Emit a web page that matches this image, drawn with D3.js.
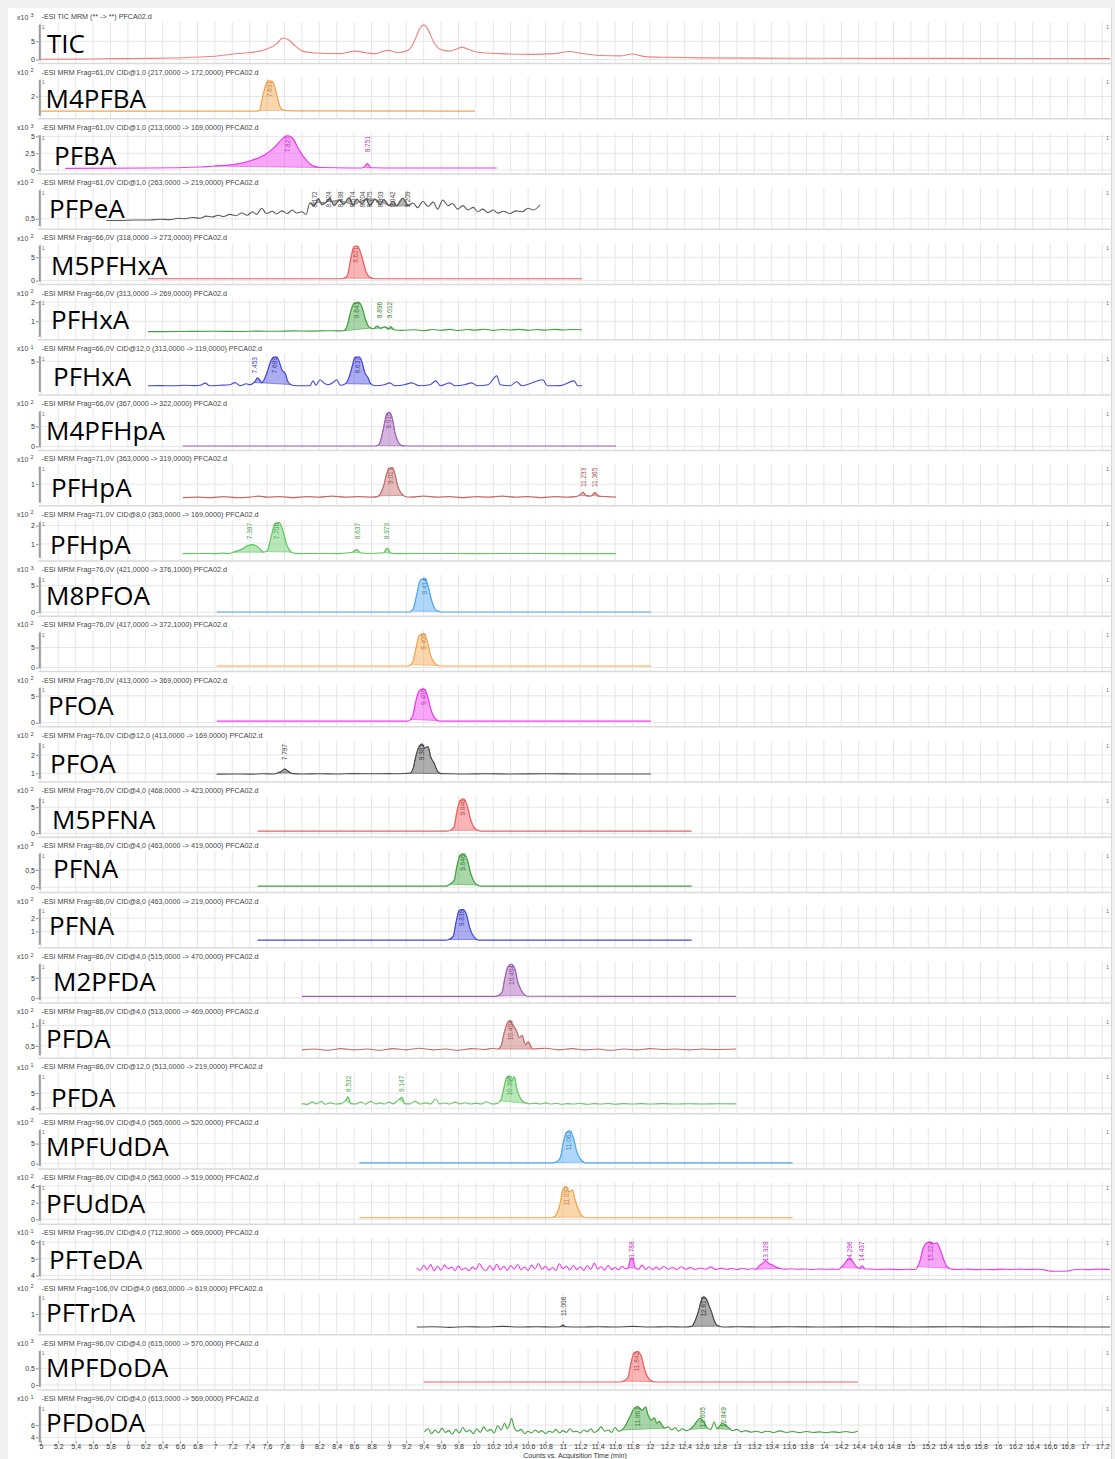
<!DOCTYPE html>
<html>
<head>
<meta charset="utf-8">
<script src="https://cdn.jsdelivr.net/npm/d3@7"></script>
<style>
  body { margin: 0; background: #f0f0f0; }
  svg { display: block; font-family: "Liberation Sans", Arial, sans-serif; }
  .big { font-family: "Open Sans", sans-serif; font-size: 26px; fill: #000; }
  .tick text { font-size: 7px; fill: #333; }
  .tick line { stroke: #888; }
</style>
</head>
<body>
<svg id="chart" width="1115" height="1459"></svg>
<script>
"use strict";

// compound names written on each trace
const labels = ["TIC", "M4PFBA", "PFBA", "PFPeA", "M5PFHxA", "PFHxA", "PFHxA", "M4PFHpA",
  "PFHpA", "PFHpA", "M8PFOA", "", "PFOA", "PFOA", "M5PFNA", "PFNA", "PFNA", "M2PFDA",
  "PFDA", "PFDA", "MPFUdDA", "PFUdDA", "PFTeDA", "PFTrDA", "MPFDoDA", "PFDoDA"];

const headers = [
  "-ESI TIC MRM (** -> **) PFCA02.d",
  "-ESI MRM Frag=61,0V CID@1,0 (217,0000 -> 172,0000) PFCA02.d",
  "-ESI MRM Frag=61,0V CID@1,0 (213,0000 -> 169,0000) PFCA02.d",
  "-ESI MRM Frag=61,0V CID@1,0 (263,0000 -> 219,0000) PFCA02.d",
  "-ESI MRM Frag=66,0V (318,0000 -> 273,0000) PFCA02.d",
  "-ESI MRM Frag=66,0V (313,0000 -> 269,0000) PFCA02.d",
  "-ESI MRM Frag=66,0V CID@12,0 (313,0000 -> 119,0000) PFCA02.d",
  "-ESI MRM Frag=66,0V (367,0000 -> 322,0000) PFCA02.d",
  "-ESI MRM Frag=71,0V (363,0000 -> 319,0000) PFCA02.d",
  "-ESI MRM Frag=71,0V CID@8,0 (363,0000 -> 169,0000) PFCA02.d",
  "-ESI MRM Frag=76,0V (421,0000 -> 376,1000) PFCA02.d",
  "-ESI MRM Frag=76,0V (417,0000 -> 372,1000) PFCA02.d",
  "-ESI MRM Frag=76,0V (413,0000 -> 369,0000) PFCA02.d",
  "-ESI MRM Frag=76,0V CID@12,0 (413,0000 -> 169,0000) PFCA02.d",
  "-ESI MRM Frag=76,0V CID@4,0 (468,0000 -> 423,0000) PFCA02.d",
  "-ESI MRM Frag=86,0V CID@4,0 (463,0000 -> 419,0000) PFCA02.d",
  "-ESI MRM Frag=86,0V CID@8,0 (463,0000 -> 219,0000) PFCA02.d",
  "-ESI MRM Frag=86,0V CID@4,0 (515,0000 -> 470,0000) PFCA02.d",
  "-ESI MRM Frag=86,0V CID@4,0 (513,0000 -> 469,0000) PFCA02.d",
  "-ESI MRM Frag=86,0V CID@12,0 (513,0000 -> 219,0000) PFCA02.d",
  "-ESI MRM Frag=96,0V CID@4,0 (565,0000 -> 520,0000) PFCA02.d",
  "-ESI MRM Frag=86,0V CID@4,0 (563,0000 -> 519,0000) PFCA02.d",
  "-ESI MRM Frag=96,0V CID@4,0 (712,9000 -> 669,0000) PFCA02.d",
  "-ESI MRM Frag=106,0V CID@4,0 (663,0000 -> 619,0000) PFCA02.d",
  "-ESI MRM Frag=96,0V CID@4,0 (615,0000 -> 570,0000) PFCA02.d",
  "-ESI MRM Frag=96,0V CID@4,0 (613,0000 -> 569,0000) PFCA02.d"
];

const exponents = [3, 2, 3, 2, 2, 2, 1, 2, 2, 2, 3, 2, 2, 2, 2, 3, 2, 2, 2, 1, 2, 2, 1, 2, 3, 1];

const yDomains = [[0, 9.6], [0.25, 3.6], [0, 5.2], [0.35, 1.15], [0, 7.5], [0.23, 2.07],
  [2.2, 5.5], [0, 8.8], [0.65, 1.35], [0.29, 2.2], [0, 6.6], [0, 8.75], [0, 6.5],
  [0.74, 2.65], [0, 6.7], [-0.04, 0.97], [0.07, 2.7], [-0.3, 8.45], [0.29, 1.15],
  [3.9, 6.23], [-0.3, 8.4], [-0.1, 4.1], [4.0, 6.1], [0.5, 1.55], [-0.03, 1.02], [3.37, 9.06]];

const yTicks = [[0, 5], [2], [0, 2.5, 5], [0.5], [0, 5], [1, 2], [5], [0, 5], [1], [1, 2],
  [0, 5], [0, 5], [0, 5], [1, 2], [0, 5], [0, 0.5], [1, 2], [0, 5], [0.5, 1], [4, 5],
  [0, 5], [0, 2, 4], [4, 5, 6], [1], [0, 0.5], [4, 6]];

// traces: [acquisition time (min), counts in the panel's x10^n unit]
const trace01 = [[5.0,0.05],[5.4,0.1],[5.7,0.2],[6.0,0.25],[6.25,0.3],[6.5,0.4],[6.83,0.7],[7.0,0.9],[7.21,1.5],[7.35,1.8],[7.46,2.1],[7.6,2.9],[7.71,4.3],[7.78,5.9],[7.84,5.5],[7.92,3.8],[8.01,2.3],[8.1,1.9],[8.21,1.7],[8.44,1.6],[8.55,2.1],[8.61,2.3],[8.75,1.8],[8.84,1.6],[8.93,2.2],[8.99,2.5],[9.1,1.9],[9.2,2.3],[9.26,3.5],[9.31,6.0],[9.36,8.7],[9.4,9.5],[9.45,8.2],[9.51,5.0],[9.59,2.8],[9.7,2.3],[9.78,2.9],[9.84,3.4],[9.93,2.6],[10.05,1.9],[10.28,1.6],[10.62,1.4],[10.91,1.6],[11.0,2.0],[11.08,2.2],[11.2,1.7],[11.43,1.1],[11.66,1.0],[11.79,1.5],[11.94,0.8],[12.2,0.6],[12.57,0.45],[13.72,0.35],[15.5,0.3],[17.29,0.25]];
const trace02 = [[5.0,0.6],[7.45,0.6],[7.51,0.65],[7.55,2.0],[7.58,3.0],[7.61,3.5],[7.66,3.45],[7.71,2.2],[7.75,1.0],[7.78,0.7],[7.9,0.62],[9.99,0.6]];
const trace03 = [[5.28,0.25],[6.25,0.3],[6.83,0.45],[7.0,0.6],[7.17,0.75],[7.4,1.35],[7.57,2.24],[7.69,3.43],[7.77,4.6],[7.83,5.1],[7.89,4.8],[7.95,3.4],[8.03,1.8],[8.11,0.75],[8.21,0.37],[8.55,0.3],[8.69,0.3],[8.72,0.5],[8.75,0.97],[8.79,0.35],[9.13,0.3],[10.24,0.3]];
const trace04 = [[5.75,0.46],[5.91,0.46],[6.08,0.47],[6.25,0.47],[6.37,0.49],[6.48,0.48],[6.58,0.51],[6.66,0.5],[6.74,0.53],[6.83,0.51],[6.9,0.56],[6.97,0.54],[7.04,0.58],[7.1,0.55],[7.17,0.6],[7.24,0.57],[7.31,0.63],[7.37,0.58],[7.43,0.66],[7.48,0.6],[7.54,0.74],[7.59,0.62],[7.66,0.67],[7.71,0.61],[7.77,0.68],[7.83,0.62],[7.89,0.7],[7.94,0.63],[8.0,0.66],[8.05,0.6],[8.09,0.86],[8.14,0.8],[8.19,0.96],[8.23,0.82],[8.28,0.88],[8.32,0.97],[8.37,0.8],[8.43,0.93],[8.48,0.83],[8.54,0.98],[8.59,0.81],[8.63,0.95],[8.69,0.84],[8.74,0.96],[8.78,0.8],[8.84,0.95],[8.9,0.82],[8.94,0.94],[9.0,0.8],[9.05,0.9],[9.09,0.79],[9.16,0.97],[9.22,0.8],[9.28,0.86],[9.33,0.75],[9.39,0.9],[9.45,0.78],[9.51,0.88],[9.56,0.72],[9.62,0.93],[9.68,0.8],[9.73,0.85],[9.79,0.72],[9.85,0.8],[9.91,0.7],[9.97,0.76],[10.02,0.66],[10.08,0.72],[10.14,0.64],[10.2,0.7],[10.25,0.63],[10.32,0.67],[10.39,0.62],[10.46,0.68],[10.53,0.66],[10.6,0.74],[10.66,0.7],[10.74,0.82]];
const trace05 = [[6.23,0.4],[8.45,0.4],[8.5,0.6],[8.53,1.5],[8.56,4.5],[8.6,7.3],[8.64,7.4],[8.69,5.0],[8.74,1.8],[8.79,0.6],[8.85,0.4],[11.22,0.4]];
const trace06 = [[6.23,0.45],[6.6,0.46],[7.0,0.47],[7.3,0.46],[7.5,0.48],[7.7,0.47],[7.9,0.49],[8.1,0.48],[8.3,0.5],[8.4,0.49],[8.48,0.5],[8.52,0.75],[8.56,1.5],[8.6,1.95],[8.65,2.0],[8.69,1.75],[8.73,1.1],[8.77,0.7],[8.82,0.6],[8.87,0.75],[8.9,0.62],[8.95,0.7],[9.0,0.58],[9.02,0.7],[9.06,0.55],[9.15,0.52],[9.3,0.55],[9.4,0.5],[9.5,0.56],[9.6,0.52],[9.7,0.57],[9.8,0.51],[9.9,0.56],[10.0,0.53],[10.1,0.58],[10.2,0.52],[10.3,0.56],[10.4,0.54],[10.5,0.57],[10.6,0.52],[10.7,0.56],[10.8,0.53],[10.9,0.57],[11.0,0.54],[11.1,0.56],[11.22,0.55]];
const trace07 = [[6.23,2.7],[6.37,2.72],[6.54,2.7],[6.66,2.75],[6.77,2.72],[6.83,2.75],[6.89,2.95],[6.94,2.7],[7.06,2.75],[7.17,2.8],[7.23,3.0],[7.29,2.72],[7.36,2.9],[7.4,2.8],[7.46,3.1],[7.49,3.45],[7.54,2.98],[7.59,3.74],[7.64,4.96],[7.67,5.4],[7.71,5.42],[7.74,4.96],[7.77,4.21],[7.81,3.83],[7.84,3.08],[7.89,2.75],[7.98,2.7],[8.09,2.7],[8.13,3.17],[8.16,2.75],[8.21,3.27],[8.25,2.98],[8.3,2.8],[8.37,3.08],[8.4,3.27],[8.44,2.75],[8.5,2.9],[8.54,3.45],[8.58,4.59],[8.61,5.4],[8.66,5.42],[8.69,4.96],[8.72,4.02],[8.76,3.45],[8.79,2.9],[8.84,2.7],[8.95,2.8],[9.01,2.98],[9.07,2.7],[9.18,2.8],[9.26,2.98],[9.35,2.7],[9.47,2.8],[9.54,3.17],[9.59,2.7],[9.7,2.98],[9.76,2.7],[9.87,2.8],[9.95,2.98],[10.02,2.7],[10.14,2.8],[10.24,3.64],[10.28,2.8],[10.39,2.7],[10.47,3.08],[10.53,2.7],[10.62,2.9],[10.77,3.27],[10.82,2.7],[10.97,2.72],[11.13,3.17],[11.17,2.7],[11.22,2.7]];
const trace08 = [[6.63,0.1],[8.85,0.1],[8.89,0.6],[8.93,3.8],[8.97,7.8],[9.0,8.6],[9.04,7.0],[9.07,3.4],[9.11,1.0],[9.15,0.2],[9.2,0.1],[11.61,0.1]];
const trace09 = [[6.63,0.73],[6.8,0.74],[6.95,0.73],[7.1,0.75],[7.25,0.73],[7.4,0.74],[7.5,0.76],[7.6,0.74],[7.75,0.75],[7.9,0.73],[8.05,0.75],[8.2,0.74],[8.35,0.76],[8.5,0.74],[8.65,0.75],[8.8,0.74],[8.87,0.75],[8.9,0.8],[8.94,0.97],[8.97,1.18],[9.0,1.31],[9.04,1.33],[9.07,1.2],[9.1,0.97],[9.14,0.82],[9.18,0.76],[9.25,0.74],[9.4,0.76],[9.55,0.74],[9.7,0.75],[9.85,0.73],[10.0,0.75],[10.15,0.74],[10.3,0.76],[10.45,0.74],[10.6,0.75],[10.75,0.73],[10.9,0.75],[11.05,0.74],[11.15,0.75],[11.2,0.79],[11.23,0.84],[11.27,0.77],[11.32,0.76],[11.37,0.83],[11.41,0.76],[11.5,0.75],[11.61,0.74]];
const trace10 = [[6.63,0.47],[6.8,0.48],[7.0,0.47],[7.1,0.5],[7.15,0.47],[7.21,0.55],[7.3,0.69],[7.38,0.91],[7.44,0.96],[7.5,0.8],[7.56,0.55],[7.6,0.62],[7.65,1.45],[7.69,2.11],[7.74,2.17],[7.78,1.73],[7.83,0.91],[7.88,0.55],[7.96,0.47],[8.2,0.48],[8.4,0.47],[8.58,0.55],[8.63,0.69],[8.67,0.52],[8.75,0.48],[8.94,0.52],[8.98,0.77],[9.02,0.5],[9.1,0.47],[9.5,0.48],[10.0,0.47],[10.5,0.48],[11.0,0.47],[11.61,0.47]];
const trace11 = [[7.02,0.05],[9.24,0.05],[9.28,0.7],[9.32,3.3],[9.36,6.0],[9.41,6.4],[9.45,5.0],[9.49,2.3],[9.54,0.4],[9.6,0.05],[12.01,0.05]];
const trace12 = [[7.02,0.35],[9.22,0.35],[9.27,1.2],[9.31,4.7],[9.35,8.0],[9.4,8.5],[9.44,6.7],[9.48,3.0],[9.53,1.0],[9.58,0.35],[12.01,0.35]];
const trace13 = [[7.02,0.3],[9.22,0.3],[9.27,1.1],[9.31,4.0],[9.35,6.0],[9.4,6.3],[9.44,5.2],[9.48,2.6],[9.53,0.8],[9.58,0.3],[12.01,0.3]];
const trace14 = [[7.02,0.95],[7.2,0.96],[7.4,0.95],[7.55,0.97],[7.68,0.96],[7.73,1.03],[7.77,1.12],[7.8,1.23],[7.84,1.12],[7.89,0.98],[8.0,0.96],[8.2,0.97],[8.4,0.96],[8.6,0.98],[8.8,0.97],[9.0,0.98],[9.1,0.97],[9.2,0.99],[9.24,1.0],[9.28,1.29],[9.31,1.94],[9.35,2.49],[9.38,2.6],[9.41,2.38],[9.45,2.45],[9.48,1.9],[9.52,1.55],[9.56,1.1],[9.6,0.98],[9.7,0.97],[9.9,0.96],[10.1,0.97],[10.4,0.96],[10.8,0.97],[11.2,0.96],[11.6,0.96],[12.01,0.96]];
const trace15 = [[7.49,0.42],[9.66,0.42],[9.71,0.6],[9.75,1.3],[9.78,4.0],[9.82,6.3],[9.86,6.6],[9.9,5.3],[9.94,2.6],[9.99,0.9],[10.05,0.42],[12.48,0.42]];
const trace16 = [[7.49,0.03],[9.66,0.03],[9.71,0.1],[9.75,0.2],[9.78,0.58],[9.82,0.93],[9.86,0.96],[9.9,0.8],[9.94,0.4],[9.99,0.12],[10.05,0.03],[12.48,0.03]];
const trace17 = [[7.49,0.35],[9.65,0.35],[9.69,0.4],[9.74,0.65],[9.77,1.63],[9.81,2.6],[9.85,2.65],[9.89,2.3],[9.93,1.25],[9.98,0.57],[10.03,0.35],[12.48,0.35]];
const trace18 = [[8.0,0.37],[10.21,0.37],[10.25,0.5],[10.3,1.4],[10.33,4.6],[10.37,7.9],[10.41,8.4],[10.45,7.1],[10.48,4.1],[10.53,1.6],[10.59,0.4],[12.99,0.37]];
const trace19 = [[8.0,0.4],[8.15,0.42],[8.3,0.39],[8.45,0.43],[8.6,0.4],[8.75,0.42],[8.9,0.39],[9.05,0.43],[9.2,0.4],[9.35,0.44],[9.5,0.4],[9.65,0.42],[9.8,0.39],[9.95,0.43],[10.1,0.41],[10.2,0.44],[10.25,0.42],[10.29,0.5],[10.32,0.78],[10.36,1.05],[10.39,1.12],[10.43,1.0],[10.46,0.9],[10.5,0.7],[10.53,0.76],[10.57,0.53],[10.6,0.6],[10.65,0.42],[10.8,0.44],[10.95,0.4],[11.1,0.43],[11.25,0.4],[11.4,0.42],[11.55,0.39],[11.7,0.42],[11.85,0.4],[12.0,0.43],[12.15,0.41],[12.3,0.42],[12.45,0.4],[12.6,0.42],[12.75,0.41],[12.99,0.42]];
const trace20 = [[8.0,4.3],[8.06,4.25],[8.12,4.4],[8.17,4.28],[8.22,4.45],[8.27,4.26],[8.33,4.35],[8.39,4.27],[8.45,4.3],[8.5,4.5],[8.53,4.75],[8.56,4.3],[8.62,4.27],[8.68,4.4],[8.73,4.26],[8.79,4.45],[8.85,4.28],[8.9,4.35],[8.95,4.27],[9.0,4.4],[9.05,4.28],[9.1,4.5],[9.15,4.7],[9.18,4.3],[9.24,4.28],[9.3,4.45],[9.36,4.27],[9.42,4.35],[9.48,4.28],[9.54,4.62],[9.58,4.28],[9.64,4.34],[9.7,4.27],[9.76,4.4],[9.82,4.28],[9.88,4.36],[9.94,4.27],[10.0,4.33],[10.06,4.27],[10.12,4.42],[10.18,4.28],[10.24,4.3],[10.29,4.6],[10.32,5.3],[10.35,6.0],[10.38,6.15],[10.41,5.8],[10.44,6.1],[10.47,5.3],[10.5,4.8],[10.53,4.5],[10.57,4.35],[10.62,4.28],[10.68,4.33],[10.74,4.27],[10.8,4.35],[10.86,4.27],[10.92,4.32],[10.98,4.26],[11.05,4.3],[11.12,4.27],[11.2,4.31],[11.28,4.26],[11.36,4.3],[11.44,4.27],[11.52,4.31],[11.6,4.26],[11.7,4.3],[11.8,4.27],[11.9,4.3],[12.0,4.27],[12.15,4.3],[12.3,4.27],[12.45,4.29],[12.6,4.27],[12.8,4.29],[12.99,4.28]];
const trace21 = [[8.66,0.2],[10.88,0.2],[10.92,0.4],[10.97,1.45],[11.0,4.7],[11.04,7.7],[11.08,8.2],[11.12,6.45],[11.16,2.95],[11.21,0.95],[11.26,0.2],[13.64,0.2]];
const trace22 = [[8.66,0.19],[10.86,0.19],[10.9,0.3],[10.93,0.67],[10.97,1.99],[11.0,3.55],[11.04,3.9],[11.07,3.3],[11.11,3.5],[11.14,2.35],[11.17,1.39],[11.21,0.55],[11.26,0.19],[13.64,0.19]];
const trace23 = [[9.32,4.45],[9.36,4.3],[9.4,4.6],[9.44,4.35],[9.48,4.65],[9.52,4.28],[9.56,4.55],[9.6,4.32],[9.64,4.62],[9.68,4.4],[9.72,4.5],[9.76,4.3],[9.8,4.56],[9.84,4.33],[9.88,4.45],[9.92,4.28],[9.96,4.5],[10.0,4.36],[10.04,4.72],[10.08,4.4],[10.12,4.3],[10.16,4.6],[10.2,4.32],[10.24,4.67],[10.28,4.35],[10.32,4.55],[10.36,4.3],[10.4,4.6],[10.44,4.38],[10.48,4.66],[10.52,4.33],[10.56,4.5],[10.6,4.3],[10.64,4.62],[10.68,4.4],[10.72,4.72],[10.76,4.36],[10.8,4.55],[10.84,4.32],[10.88,4.48],[10.92,4.3],[10.96,4.7],[11.0,4.4],[11.04,4.55],[11.08,4.33],[11.12,4.6],[11.16,4.36],[11.2,4.52],[11.24,4.3],[11.28,4.58],[11.32,4.36],[11.36,4.74],[11.4,4.38],[11.44,4.52],[11.48,4.32],[11.52,4.6],[11.56,4.35],[11.6,4.48],[11.64,4.33],[11.68,4.55],[11.72,4.4],[11.75,4.45],[11.77,4.85],[11.79,5.05],[11.81,4.9],[11.83,4.45],[11.87,4.38],[11.91,4.62],[11.95,4.36],[11.99,4.52],[12.03,4.34],[12.07,4.5],[12.11,4.36],[12.16,4.55],[12.21,4.37],[12.26,4.48],[12.31,4.36],[12.36,4.52],[12.41,4.37],[12.46,4.47],[12.52,4.36],[12.58,4.45],[12.64,4.37],[12.7,4.5],[12.76,4.36],[12.82,4.44],[12.88,4.37],[12.94,4.42],[13.0,4.36],[13.06,4.43],[13.12,4.37],[13.18,4.4],[13.22,4.38],[13.26,4.6],[13.3,4.75],[13.33,4.88],[13.37,4.7],[13.41,4.62],[13.45,4.5],[13.5,4.42],[13.55,4.38],[13.62,4.4],[13.7,4.37],[13.78,4.39],[13.86,4.36],[13.94,4.39],[14.02,4.37],[14.1,4.38],[14.17,4.37],[14.21,4.55],[14.25,4.8],[14.29,5.05],[14.33,4.85],[14.37,4.55],[14.41,4.42],[14.44,4.58],[14.47,4.4],[14.55,4.38],[14.65,4.36],[14.75,4.38],[14.85,4.35],[14.95,4.37],[15.05,4.36],[15.1,4.8],[15.14,5.6],[15.18,5.95],[15.22,6.0],[15.26,5.9],[15.3,5.95],[15.34,5.5],[15.38,4.9],[15.42,4.5],[15.47,4.38],[15.55,4.36],[15.65,4.38],[15.75,4.35],[15.85,4.37],[15.95,4.35],[16.05,4.38],[16.15,4.36],[16.25,4.38],[16.35,4.36],[16.45,4.37],[16.55,4.32],[16.6,4.26],[16.7,4.25],[16.8,4.27],[16.85,4.33],[16.95,4.37],[17.05,4.35],[17.15,4.38],[17.29,4.36]];
const trace24 = [[9.32,0.61],[9.5,0.62],[9.7,0.6],[9.9,0.62],[10.1,0.61],[10.3,0.63],[10.5,0.61],[10.7,0.62],[10.9,0.61],[10.97,0.62],[11.0,0.67],[11.03,0.62],[11.2,0.61],[11.4,0.62],[11.6,0.61],[11.8,0.63],[12.0,0.61],[12.2,0.62],[12.4,0.61],[12.48,0.63],[12.52,0.8],[12.56,1.1],[12.59,1.4],[12.62,1.52],[12.65,1.45],[12.68,1.25],[12.71,1.05],[12.74,0.8],[12.78,0.65],[12.85,0.61],[13.0,0.62],[13.3,0.61],[13.6,0.62],[14.0,0.61],[14.5,0.62],[15.0,0.61],[15.5,0.62],[16.0,0.61],[16.5,0.62],[17.0,0.61],[17.29,0.61]];
const trace25 = [[9.4,0.09],[11.66,0.09],[11.7,0.12],[11.75,0.24],[11.78,0.63],[11.82,0.97],[11.86,1.0],[11.9,0.87],[11.94,0.45],[11.99,0.18],[12.05,0.09],[14.39,0.09]];
const trace26 = [[9.41,4.9],[9.45,5.4],[9.49,4.6],[9.53,5.2],[9.57,4.7],[9.61,5.5],[9.65,4.8],[9.69,5.1],[9.73,4.5],[9.77,5.3],[9.81,4.7],[9.85,5.6],[9.89,4.9],[9.93,5.2],[9.97,4.6],[10.01,5.4],[10.05,4.8],[10.09,5.7],[10.13,5.0],[10.17,5.3],[10.21,4.7],[10.25,5.9],[10.29,5.2],[10.33,6.3],[10.36,5.4],[10.39,6.2],[10.41,7.1],[10.44,5.6],[10.48,5.0],[10.52,5.3],[10.56,4.6],[10.6,5.0],[10.64,4.7],[10.68,5.2],[10.72,4.8],[10.76,5.1],[10.8,4.6],[10.84,5.0],[10.88,4.8],[10.92,5.3],[10.96,4.7],[11.0,5.1],[11.04,4.8],[11.08,5.4],[11.12,4.9],[11.16,5.0],[11.2,4.7],[11.24,5.2],[11.28,4.9],[11.32,5.4],[11.36,4.8],[11.4,5.1],[11.44,5.7],[11.48,5.0],[11.52,5.2],[11.56,4.8],[11.6,5.6],[11.64,5.0],[11.68,5.2],[11.73,6.2],[11.77,7.35],[11.82,8.7],[11.86,9.0],[11.91,8.4],[11.95,8.95],[11.98,7.6],[12.02,6.8],[12.05,7.2],[12.08,6.3],[12.11,6.6],[12.14,6.0],[12.17,5.5],[12.21,5.7],[12.25,5.2],[12.29,5.6],[12.33,5.0],[12.37,5.4],[12.42,5.1],[12.46,5.3],[12.51,6.0],[12.55,6.8],[12.58,7.1],[12.62,6.5],[12.66,5.5],[12.7,5.3],[12.74,6.5],[12.77,5.4],[12.8,5.8],[12.83,6.3],[12.87,6.0],[12.91,5.5],[12.95,5.1],[13.0,5.3],[13.05,4.9],[13.1,5.1],[13.16,4.85],[13.22,5.0],[13.28,4.8],[13.35,5.0],[13.42,4.8],[13.5,5.05],[13.57,4.8],[13.64,4.95],[13.72,4.78],[13.8,4.95],[13.88,4.8],[13.95,4.9],[14.02,4.75],[14.1,4.9],[14.18,4.8],[14.25,4.95],[14.32,4.8],[14.39,5.0]];

const traces = [trace01, trace02, trace03, trace04, trace05, trace06, trace07, trace08, trace09,
  trace10, trace11, trace12, trace13, trace14, trace15, trace16, trace17, trace18, trace19,
  trace20, trace21, trace22, trace23, trace24, trace25, trace26];

// integrated peak windows [start, end] (min)
const peakWindows = [[], [[7.5,7.8]], [[7.0,8.21],[8.7,8.79]],
  [[8.09,8.28],[8.28,8.43],[8.43,8.59],[8.59,8.74],[8.74,8.84],[8.84,9.0],[9.0,9.09],[9.09,9.22]],
  [[8.48,8.82]], [[8.48,8.8],[8.82,8.93],[8.95,9.06]], [[7.44,7.54],[7.54,7.88],[8.5,8.8]],
  [[8.86,9.17]], [[8.88,9.17],[11.18,11.3],[11.33,11.42]],
  [[7.21,7.56],[7.58,7.88],[8.58,8.67],[8.94,9.02]], [[9.25,9.58]], [[9.24,9.57]], [[9.24,9.57]],
  [[7.72,7.88],[9.24,9.6]], [[9.7,10.03]], [[9.7,10.03]], [[9.68,10.02]], [[10.24,10.58]],
  [[10.25,10.65]], [[8.5,8.56],[9.12,9.18],[10.27,10.6]], [[10.9,11.25]], [[10.88,11.25]],
  [[11.75,11.83],[13.22,13.5],[14.19,14.4],[14.41,14.47],[15.07,15.45]],
  [[10.97,11.03],[12.48,12.8]], [[11.69,12.04]], [[11.68,12.17],[12.46,12.66],[12.77,12.93]]];

// retention time labels [time, text]
const peakLabels = [[], [[7.63,"7.631"]], [[7.83,"7.827"],[8.75,"8.751"]],
  [[8.15,"8.172"],[8.3,"8.324"],[8.44,"8.438"],[8.58,"8.574"],[8.7,"8.704"],[8.78,"8.775"],[8.9,"8.903"],[9.04,"9.042"],[9.21,"9.209"]],
  [[8.62,"8.621"]], [[8.63,"8.641"],[8.896,"8.896"],[9.012,"9.012"]],
  [[7.453,"7.453"],[7.69,"7.689"],[8.64,"8.637"]], [[9.0,"9.015"]],
  [[9.02,"9.017"],[11.233,"11.233"],[11.365,"11.365"]],
  [[7.397,"7.397"],[7.71,"7.706"],[8.637,"8.637"],[8.973,"8.973"]],
  [[9.41,"9.414"]], [[9.4,"9.405"]], [[9.4,"9.405"]], [[7.797,"7.797"],[9.38,"9.381"]],
  [[9.85,"9.846"]], [[9.85,"9.846"]], [[9.84,"9.838"]], [[10.41,"10.404"]], [[10.4,"10.404"]],
  [[8.532,"8.532"],[9.147,"9.147"],[10.39,"10.395"]], [[11.07,"11.062"]], [[11.04,"11.037"]],
  [[11.788,"11.788"],[13.328,"13.328"],[14.296,"14.296"],[14.437,"14.437"],[15.22,"15.224"]],
  [[11.006,"11.006"],[12.62,"12.617"]], [[11.85,"11.842"]],
  [[11.86,"11.861"],[12.605,"12.605"],[12.849,"12.849"]]];

// styling / layout (not data)
const traceColors = ["#f08080", "#f5a54a", "#ef3bef", "#5a5a5a", "#f25c5c", "#3fa33f", "#4646e0",
  "#a15cb5", "#c46a6a", "#62c962", "#4da6f2", "#f5a54a", "#ef3bef", "#4a4a4a", "#f25c5c",
  "#3fa33f", "#4646e0", "#a15cb5", "#c46a6a", "#62c962", "#4da6f2", "#f5a54a", "#ef3bef",
  "#4a4a4a", "#f25c5c", "#3fa33f"];
const labelX = [47, 45.5, 54, 49, 51, 51, 53, 46, 51, 50, 46, 0, 48, 50, 52, 53, 49, 53, 46, 51, 46, 46, 49, 46, 46, 46];
const labelDy = [36.5, 36, 38, 36, 37.5, 36, 38, 37, 38, 40, 36, 0, 35, 38, 39, 32, 34, 35, 36.5, 40, 34, 36, 36.5, 34.5, 34, 33.5];

const rowTop = 16.5, rowStep = 55.27;
const fmt = (d) => String(d).replace(".", ",");

const svg = d3.select("#chart");
const x = d3.scaleLinear().domain([5, 17.3]).range([40.9, 1111]);
const gridTimes = d3.range(0, 62).map((i) => +(5 + i * 0.2).toFixed(1));

svg.append("rect").attr("x", 8).attr("y", 8).attr("width", 1104).attr("height", 1451).attr("fill", "#fff");

function valueAt(trace, t) {
  const i = d3.bisector((d) => d[0]).left(trace, t);
  if (i <= 0) return trace[0][1];
  if (i >= trace.length) return trace[trace.length - 1][1];
  const a = trace[i - 1], b = trace[i];
  return a[1] + ((b[1] - a[1]) * (t - a[0])) / (b[0] - a[0]);
}

traces.forEach((trace, i) => {
  const yh = rowTop + rowStep * i;
  const top = yh + 8, bot = yh + 43;
  const y = d3.scaleLinear().domain(yDomains[i]).range([bot, top]);
  const color = traceColors[i];
  const g = svg.append("g");

  // grid
  g.selectAll(".vg").data(gridTimes).join("line").attr("class", "vg")
    .attr("x1", (d) => x(d)).attr("x2", (d) => x(d))
    .attr("y1", yh + 5.5).attr("y2", yh + 46.5)
    .attr("stroke", "#e6e6e6");
  g.selectAll(".hg").data(yTicks[i]).join("line").attr("class", "hg")
    .attr("x1", 40).attr("x2", 1111)
    .attr("y1", (d) => y(d)).attr("y2", (d) => y(d))
    .attr("stroke", "#e6e6e6");
  g.append("line").attr("x1", 38).attr("x2", 1112)
    .attr("y1", yh + 47).attr("y2", yh + 47)
    .attr("stroke", "#dadada").attr("stroke-width", 1.5);

  // header
  g.append("text").attr("x", 17).attr("y", yh + 3).attr("font-size", 7).attr("fill", "#444").text("x10");
  g.append("text").attr("x", 30.5).attr("y", yh + 0.5).attr("font-size", 5.5).attr("fill", "#444").text(exponents[i]);
  g.append("text").attr("x", 41.5).attr("y", yh + 2.8).attr("font-size", 7.2).attr("fill", "#444").text(headers[i]);

  // y axis
  const axis = g.append("g").attr("transform", "translate(38.5,0)")
    .call(d3.axisLeft(y).tickValues(yTicks[i]).tickSize(2.5).tickPadding(1).tickFormat(fmt));
  axis.select(".domain").remove();
  g.append("line").attr("x1", 39.8).attr("x2", 39.8).attr("y1", top).attr("y2", bot + 1)
    .attr("stroke", "#9a9a9a").attr("stroke-width", 2);
  g.append("text").attr("x", 41.8).attr("y", top + 4.5).attr("font-size", 5.5).attr("fill", "#777").text("1");
  g.append("text").attr("x", 1106).attr("y", top + 4.5).attr("font-size", 5.5).attr("fill", "#777").text("1");

  // integrated peaks
  peakWindows[i].forEach(([t0, t1]) => {
    const v0 = valueAt(trace, t0), v1 = valueAt(trace, t1);
    const pts = [[t0, v0], ...trace.filter((d) => d[0] > t0 && d[0] < t1), [t1, v1]];
    const area = d3.area().curve(d3.curveMonotoneX)
      .x((d) => x(d[0]))
      .y0((d) => y(v0 + ((v1 - v0) * (d[0] - t0)) / (t1 - t0)))
      .y1((d) => y(d[1]));
    g.append("path").attr("d", area(pts)).attr("fill", color).attr("fill-opacity", 0.45)
      .attr("stroke", color).attr("stroke-width", 0.6);
  });

  // trace
  const line = d3.line().curve(d3.curveMonotoneX).x((d) => x(d[0])).y((d) => y(d[1]));
  g.append("path").attr("d", line(trace)).attr("fill", "none")
    .attr("stroke", color).attr("stroke-width", 1.1);

  // retention time labels
  const dark = d3.color(color).darker(0.6).formatHex();
  g.selectAll(".pk").data(peakLabels[i]).join("text").attr("class", "pk")
    .attr("transform", (d) => `translate(${x(d[0]) + 2.5},${top + 1}) rotate(-90)`)
    .attr("text-anchor", "end").attr("font-size", 6.5).attr("fill", dark)
    .text((d) => d[1]);

  // compound name
  if (labels[i]) {
    g.append("text").attr("class", "big").attr("x", labelX[i]).attr("y", yh + labelDy[i]).text(labels[i]);
  }
});

// bottom time axis
const lastBot = rowTop + rowStep * (traces.length - 1) + 43;
const xAxis = svg.append("g").attr("transform", `translate(0,${lastBot})`)
  .call(d3.axisBottom(x).tickValues(gridTimes).tickSize(2).tickPadding(0.5).tickFormat(fmt));
xAxis.select(".domain").remove();
svg.append("text").attr("x", 575).attr("y", 1457.5).attr("text-anchor", "middle")
  .attr("font-size", 7).attr("fill", "#333").text("Counts vs. Acquisition Time (min)");
svg.append("line").attr("x1", 1111.5).attr("x2", 1111.5).attr("y1", 8).attr("y2", 1459)
  .attr("stroke", "#d8d8d8");
</script>
</body>
</html>
